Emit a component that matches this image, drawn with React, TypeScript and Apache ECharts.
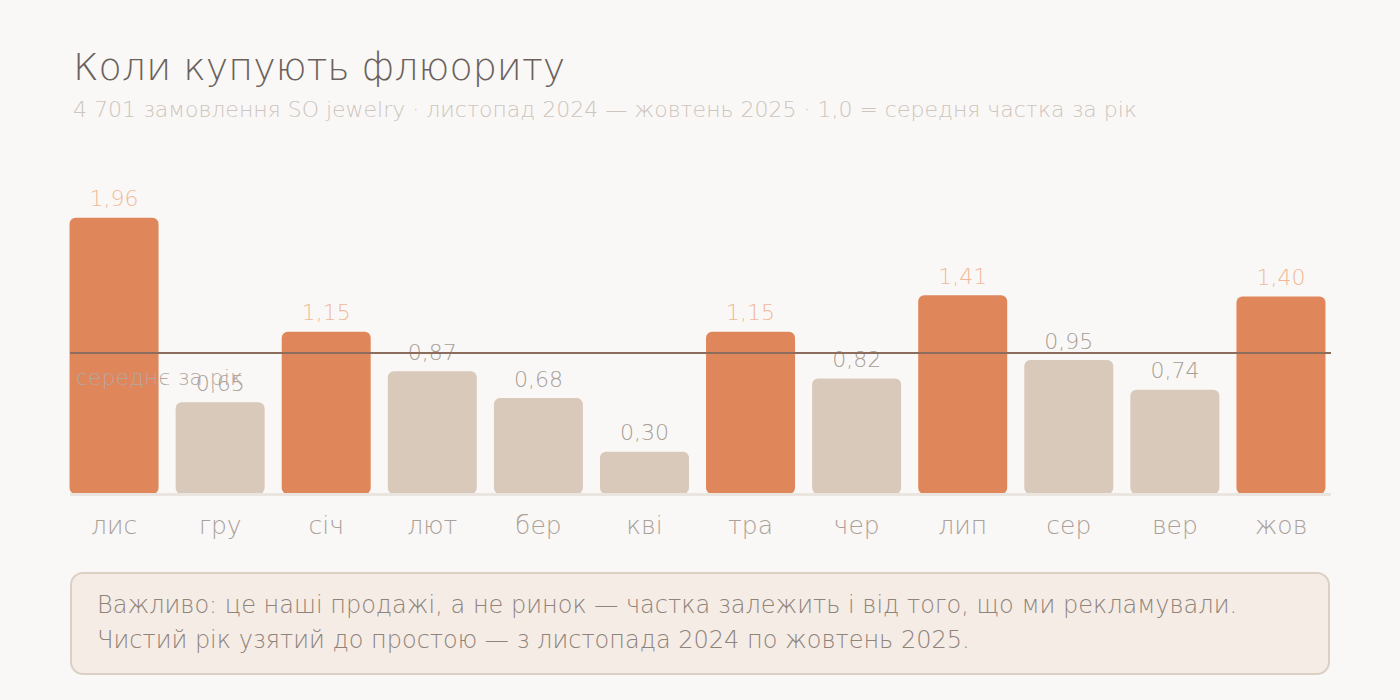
import { useEffect, useRef } from 'react';
import * as echarts from 'echarts';

const months = ['лис', 'гру', 'січ', 'лют', 'бер', 'кві', 'тра', 'чер', 'лип', 'сер', 'вер', 'жов'];
const shares = [1.96, 0.65, 1.15, 0.87, 0.68, 0.3, 1.15, 0.82, 1.41, 0.95, 0.74, 1.4];
const averageLevel = 1.0;
const averageLabel = 'середнє за рік';

const titleText = 'Коли купують флюориту';
const subtitleText = '4 701 замовлення SO jewelry · листопад 2024 — жовтень 2025 · 1,0 = середня частка за рік';
const noteLines = [
  'Важливо: це наші продажі, а не ринок — частка залежить і від того, що ми рекламували.',
  'Чистий рік узятий до простою — з листопада 2024 по жовтень 2025.',
];

const FONT = '"DejaVu Sans", "Open Sans", sans-serif';
const ORANGE = '#e0865b';
const BEIGE = '#d9c9bb';

const fmt = (v: number) => v.toFixed(2).replace('.', ',');

export default function App() {
  const ref = useRef<HTMLDivElement>(null);

  useEffect(() => {
    document.body.style.margin = '0';
    if (!ref.current) return;
    const chart = echarts.init(ref.current, undefined, { renderer: 'svg' });

    const gridTop = 212;
    const gridBottom = 206;

    chart.setOption({
      animation: false,
      backgroundColor: '#faf8f6',
      textStyle: { fontFamily: FONT, fontWeight: 200 },
      title: {
        text: titleText,
        subtext: subtitleText,
        left: 68,
        top: 43,
        itemGap: 12,
        textStyle: { fontFamily: FONT, fontWeight: 200, fontSize: 38, color: '#6b625d' },
        subtextStyle: { fontFamily: FONT, fontWeight: 200, fontSize: 22, color: '#cdc5be' },
      },
      grid: [
        { left: 61, right: 66, top: gridTop, bottom: gridBottom },
        { left: 70, right: 69, top: gridTop, bottom: gridBottom },
      ],
      xAxis: [
        {
          type: 'category',
          gridIndex: 0,
          data: months,
          axisLine: { show: false },
          axisTick: { show: false },
          axisLabel: { color: '#aaa19a', fontSize: 25, fontWeight: 200, fontFamily: FONT, margin: 19 },
        },
        { type: 'value', gridIndex: 1, min: 0, max: 1, show: false },
      ],
      yAxis: [
        { type: 'value', gridIndex: 0, min: 0, max: 2, show: false },
        { type: 'value', gridIndex: 1, min: 0, max: 2, show: false },
      ],
      series: [
        {
          type: 'bar',
          xAxisIndex: 0,
          yAxisIndex: 0,
          barWidth: 89,
          data: shares.map((v) => ({
            value: v,
            itemStyle: { color: v > averageLevel ? ORANGE : BEIGE, borderRadius: 6 },
            label: { color: v > averageLevel ? '#f0b899' : '#a79e97' },
          })),
          label: {
            show: true,
            position: 'top',
            distance: 8,
            fontSize: 22,
            fontWeight: 200,
            fontFamily: FONT,
            formatter: (p: { value: number }) => fmt(p.value),
          },
          z: 2,
        },
        {
          type: 'line',
          xAxisIndex: 1,
          yAxisIndex: 1,
          data: [[0, 0]],
          symbol: 'none',
          lineStyle: { opacity: 0 },
          silent: true,
          z: 1,
          markLine: {
            silent: true,
            symbol: 'none',
            data: [
              {
                yAxis: 0,
                lineStyle: { color: '#ebe5df', width: 3, type: 'solid' },
                label: { show: false },
              },
            ],
          },
        },
        {
          type: 'line',
          xAxisIndex: 1,
          yAxisIndex: 1,
          data: [[0, 0]],
          symbol: 'none',
          lineStyle: { opacity: 0 },
          silent: true,
          z: 5,
          markLine: {
            silent: true,
            symbol: 'none',
            data: [
              {
                yAxis: averageLevel,
                lineStyle: { color: '#8c6c5c', width: 2, type: 'solid' },
                label: {
                  show: true,
                  position: 'insideStartBottom',
                  formatter: averageLabel,
                  color: '#b3a79f',
                  fontSize: 22,
                  fontWeight: 200,
                  fontFamily: FONT,
                  distance: [6, 13],
                },
              },
            ],
          },
        },
      ],
      graphic: [
        {
          type: 'rect',
          shape: { x: 71, y: 573, width: 1258, height: 101, r: 12 },
          style: { fill: '#f5ece6', stroke: '#dccfc4', lineWidth: 2 },
        },
        {
          type: 'text',
          x: 97,
          y: 605,
          style: {
            text: noteLines[0],
            fill: '#8f837a',
            font: `200 24px ${FONT}`,
            verticalAlign: 'middle',
          },
        },
        {
          type: 'text',
          x: 97,
          y: 640,
          style: {
            text: noteLines[1],
            fill: '#8f837a',
            font: `200 24px ${FONT}`,
            verticalAlign: 'middle',
          },
        },
      ],
    });

    return () => {
      chart.dispose();
    };
  }, []);

  return <div ref={ref} style={{ width: 1400, height: 700 }} />;
}
